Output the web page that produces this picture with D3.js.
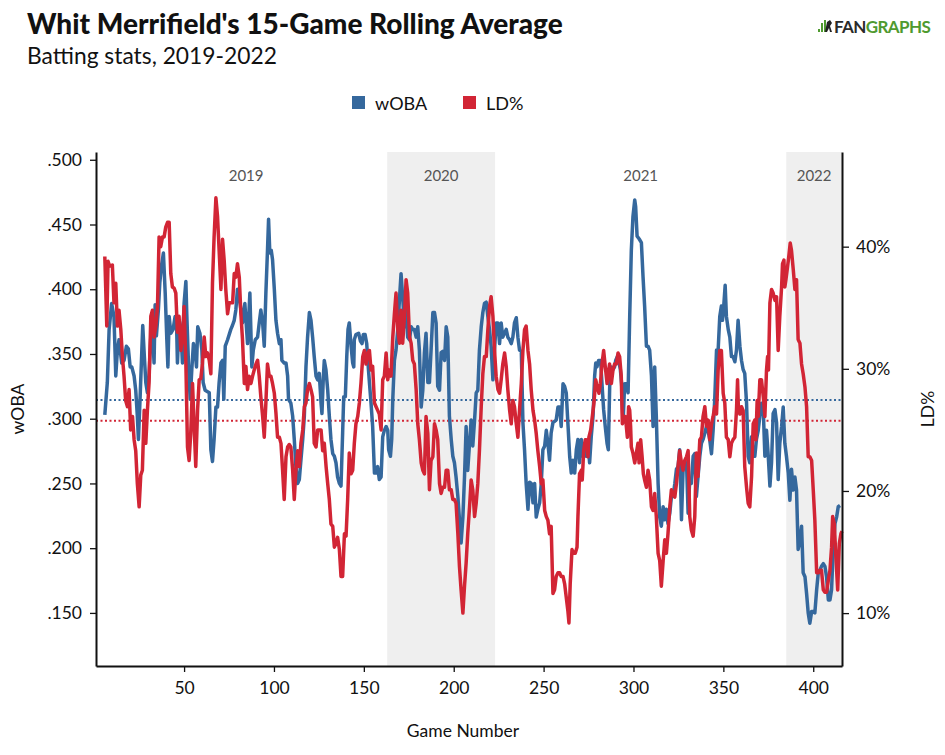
<!DOCTYPE html>
<html>
<head>
<meta charset="utf-8">
<script src="https://cdn.jsdelivr.net/npm/d3@7"></script>
<style>
  html, body { margin: 0; padding: 0; background: #fff; }
  svg { display: block; font-family: Lato, "Open Sans", sans-serif; }
</style>
</head>
<body>
<svg id="chart" width="945" height="755"></svg>
<script>
// ---------------- DATA ----------------
const wobaGames = [5.9,7.3,8.3,9.7,11.0,12.0,12.9,13.8,15.3,16.6,17.9,19.0,20.0,20.9,22.2,23.1,24.0,24.6,25.5,26.5,27.0,27.9,28.7,29.6,30.5,31.5,32.4,33.3,33.9,34.6,35.7,36.5,37.4,38.5,39.5,40.4,41.0,41.7,42.6,43.9,45.0,45.8,46.3,47.3,48.2,49.1,50.0,51.0,51.5,52.5,53.4,54.3,55.2,56.2,56.9,57.6,58.8,59.9,60.6,61.7,64.0,64.9,65.8,66.7,67.7,68.6,69.5,70.5,71.4,72.1,72.9,74.2,76.0,76.9,77.9,78.8,79.7,80.7,82.5,83.8,85.3,86.6,87.7,88.5,89.6,90.9,91.8,92.7,93.7,94.6,95.5,96.4,97.0,97.7,98.5,99.2,100.2,101.1,102.0,103.0,103.9,104.4,105.7,106.7,107.6,108.1,109.4,110.4,111.3,112.2,113.2,114.1,115.0,116.0,116.9,117.8,118.7,119.7,120.6,121.5,122.4,123.4,124.3,125.2,126.2,126.7,127.5,128.0,128.9,129.9,130.8,131.7,132.7,133.6,134.5,135.4,136.4,137.3,138.2,138.8,139.7,140.5,141.2,141.9,142.9,143.8,144.4,144.7,145.6,147.1,148.1,149.0,149.7,150.7,151.6,152.3,153.1,154.0,154.9,155.9,156.8,157.7,158.6,159.6,160.5,161.4,162.4,163.3,163.8,164.8,165.5,166.1,167.0,167.9,168.9,169.8,170.7,171.6,172.6,173.5,174.4,175.4,176.3,177.2,178.1,179.1,180.0,180.9,181.9,182.8,183.7,184.6,185.6,186.5,187.4,188.4,189.3,190.2,191.1,192.1,193.0,193.9,194.9,195.8,196.7,197.6,198.6,199.5,200.4,201.3,202.3,203.2,204.1,205.1,206.0,206.9,207.8,208.8,209.7,210.6,211.6,212.5,213.4,214.3,215.3,216.2,217.1,218.1,219.0,219.9,220.8,221.8,222.7,223.6,224.6,225.5,226.4,227.3,229.2,230.1,231.1,232.0,232.9,233.8,234.8,235.7,236.6,237.6,238.5,239.4,240.3,241.3,242.2,243.1,244.1,245.0,245.9,246.8,247.8,248.7,249.6,250.6,251.5,252.4,253.3,254.2,255.2,256.1,257.0,258.0,258.9,259.8,260.8,261.7,262.6,263.5,264.5,265.4,266.3,267.3,268.2,269.1,270.0,271.0,271.9,272.8,273.8,274.7,275.6,276.5,277.5,278.4,279.0,279.7,280.6,281.7,282.7,283.4,284.3,285.3,286.0,286.8,287.7,288.6,289.5,290.1,291.0,292.0,292.7,293.4,294.2,295.1,296.0,297.0,297.9,298.8,299.7,300.7,301.2,302.0,303.1,304.4,305.3,306.2,307.2,308.1,309.0,310.0,310.9,311.8,312.7,313.7,314.6,315.5,316.5,317.4,318.3,319.2,320.2,321.1,322.0,323.0,323.9,324.8,325.7,326.7,327.6,328.5,329.5,330.4,331.3,332.2,333.2,334.1,335.0,335.9,336.9,337.8,338.7,339.7,340.6,341.5,342.4,343.4,344.3,345.2,346.2,347.1,348.0,348.9,349.5,350.2,351.0,351.7,352.7,353.6,354.5,355.4,356.4,357.3,358.2,359.2,360.1,361.0,361.9,362.9,363.8,364.7,365.7,366.6,367.5,368.4,369.4,370.3,371.2,372.2,373.1,374.0,374.9,375.9,376.8,377.7,378.7,379.6,380.5,381.4,382.4,383.3,384.2,385.1,386.1,387.0,387.9,388.9,389.8,390.7,391.6,392.6,393.5,394.4,395.4,396.3,397.2,398.1,399.1,400.0,400.9,401.9,402.8,403.7,404.6,405.6,406.5,407.4,408.4,409.3,410.2,411.1,412.1,413.0,413.9,414.9];
const wobaValues = [.303,.328,.369,.389,.379,.333,.353,.361,.343,.345,.356,.354,.340,.340,.333,.322,.302,.284,.315,.353,.372,.348,.328,.320,.333,.364,.369,.343,.388,.364,.384,.405,.418,.428,.397,.361,.340,.379,.366,.369,.379,.374,.343,.376,.369,.343,.389,.406,.381,.340,.315,.338,.358,.351,.340,.371,.366,.353,.328,.322,.320,.276,.267,.284,.309,.309,.328,.343,.345,.315,.356,.361,.369,.372,.376,.384,.400,.394,.374,.389,.358,.397,.340,.353,.361,.363,.374,.384,.374,.356,.397,.430,.454,.428,.430,.423,.400,.376,.366,.358,.361,.345,.343,.343,.333,.315,.312,.302,.284,.263,.250,.253,.268,.284,.302,.340,.363,.382,.376,.363,.348,.333,.330,.335,.312,.304,.333,.345,.338,.322,.302,.284,.273,.271,.266,.255,.250,.248,.289,.317,.317,.348,.369,.374,.356,.343,.340,.361,.365,.366,.360,.358,.365,.365,.358,.343,.328,.312,.294,.258,.258,.263,.253,.255,.286,.291,.294,.291,.276,.271,.284,.315,.345,.353,.369,.392,.412,.394,.371,.384,.363,.361,.371,.369,.369,.363,.371,.353,.309,.322,.351,.366,.328,.328,.353,.382,.382,.374,.325,.322,.351,.352,.345,.371,.363,.302,.284,.271,.266,.255,.240,.222,.204,.224,.255,.294,.260,.281,.299,.279,.299,.320,.322,.353,.371,.382,.389,.390,.379,.369,.356,.330,.353,.374,.374,.358,.374,.363,.369,.363,.361,.358,.363,.374,.378,.363,.353,.352,.297,.276,.250,.230,.251,.250,.235,.250,.224,.230,.235,.250,.276,.279,.291,.281,.268,.289,.297,.298,.299,.309,.309,.294,.327,.325,.320,.297,.271,.258,.268,.258,.276,.284,.266,.284,.271,.281,.271,.281,.266,.286,.302,.333,.343,.340,.345,.345,.322,.307,.294,.281,.276,.327,.340,.338,.340,.345,.348,.343,.338,.327,.297,.327,.327,.320,.379,.430,.456,.469,.464,.441,.439,.436,.410,.387,.356,.356,.353,.333,.294,.340,.302,.250,.224,.217,.232,.222,.230,.219,.227,.240,.240,.250,.261,.263,.276,.222,.261,.263,.266,.227,.253,.250,.271,.273,.240,.255,.271,.281,.284,.289,.294,.291,.284,.273,.291,.315,.353,.353,.379,.387,.376,.387,.403,.379,.369,.363,.348,.348,.344,.353,.376,.356,.345,.338,.335,.312,.271,.266,.286,.271,.271,.284,.291,.302,.312,.307,.271,.291,.273,.248,.266,.304,.307,.297,.253,.281,.294,.309,.281,.271,.258,.237,.261,.245,.255,.245,.199,.206,.217,.181,.178,.165,.150,.142,.151,.151,.150,.168,.181,.183,.186,.188,.186,.178,.160,.160,.168,.199,.219,.224,.232,.233];

const ldGames = [5.9,7.0,7.7,8.6,10.1,11.0,12.0,12.9,13.8,14.8,15.7,16.6,17.5,18.5,19.4,20.3,21.3,22.2,23.1,24.0,25.0,25.9,26.8,27.8,28.7,29.6,30.5,31.5,32.4,33.3,34.3,35.2,36.1,37.0,38.0,38.9,39.8,40.8,41.7,42.6,43.5,44.5,45.4,46.3,47.2,48.2,49.1,50.0,51.0,51.9,52.8,53.7,54.7,55.6,56.5,57.5,58.4,59.3,60.2,61.2,62.1,63.0,64.0,64.9,65.8,66.7,67.7,68.6,69.5,70.5,71.4,72.3,73.2,74.2,75.1,77.0,77.9,78.8,79.7,80.7,81.6,82.5,83.5,84.4,85.3,86.2,87.2,88.1,89.0,90.0,90.9,91.8,92.7,93.7,94.6,95.5,96.4,97.4,98.3,99.2,100.2,101.1,102.0,103.0,103.9,104.8,105.7,106.7,107.6,108.5,109.4,110.4,111.3,112.2,113.2,114.1,115.0,116.0,116.9,117.8,118.7,119.7,120.6,121.5,122.4,123.4,124.3,125.2,126.2,127.1,128.0,129.0,129.9,130.8,131.7,132.7,133.6,134.5,135.4,136.4,137.3,138.2,139.2,140.1,141.0,141.9,142.9,143.8,144.7,145.6,146.6,147.5,148.4,149.4,150.3,151.2,152.2,153.1,154.0,154.9,155.9,156.8,157.7,158.6,159.6,160.5,161.4,162.4,163.3,164.2,165.1,166.1,167.0,167.9,168.9,169.8,170.7,171.6,172.6,173.5,174.4,175.4,176.3,177.2,178.1,179.1,180.0,180.9,181.9,182.8,183.7,184.6,185.6,186.5,187.4,188.4,189.3,190.2,191.1,192.1,193.0,193.9,194.9,195.8,196.7,197.6,198.6,199.5,200.4,201.3,202.3,203.2,204.1,205.1,206.0,206.9,207.8,208.8,209.7,210.6,211.6,212.5,213.4,214.3,215.3,216.2,217.1,218.1,219.0,219.9,220.8,221.8,222.7,223.6,224.6,225.5,226.4,227.3,228.3,229.2,230.1,231.1,232.0,232.9,233.8,234.8,235.7,236.6,237.6,238.5,239.4,240.3,241.3,242.2,243.1,244.1,245.0,245.9,246.8,247.8,248.7,249.6,250.6,251.5,252.4,253.3,254.2,255.2,256.1,257.0,258.0,258.9,259.8,260.8,261.7,262.6,263.5,264.1,264.8,265.8,266.7,267.6,268.6,269.1,270.0,271.0,271.5,272.3,273.2,273.8,274.7,275.2,276.2,277.1,278.0,279.0,279.9,280.8,281.6,282.5,283.4,284.3,285.3,285.8,286.7,287.7,288.6,289.5,290.5,291.4,292.3,293.2,293.8,294.7,295.5,296.6,297.3,297.9,298.4,298.8,299.7,300.7,301.6,302.5,303.1,304.0,304.8,305.5,306.2,307.2,308.1,309.0,310.0,310.9,311.8,312.7,313.7,314.6,315.5,316.5,317.4,318.3,319.2,320.2,321.1,322.0,323.0,323.9,324.8,325.7,326.7,327.6,328.5,329.5,330.4,331.3,332.2,333.2,334.1,335.0,335.9,336.9,337.8,338.7,339.7,340.6,341.5,342.4,343.4,344.3,345.2,346.2,347.1,348.0,348.9,349.9,350.8,351.7,352.7,353.6,354.5,355.4,356.4,357.3,357.9,358.4,359.2,360.1,361.0,361.9,362.9,363.8,364.7,365.7,366.6,367.5,368.1,368.8,369.4,370.3,371.2,372.2,373.1,374.0,374.6,375.1,375.9,376.8,377.7,378.7,379.6,380.5,381.4,382.4,382.9,383.7,384.2,384.8,385.5,386.4,387.2,387.9,388.9,389.8,390.7,391.6,392.6,393.5,394.4,395.4,396.3,397.2,398.1,399.1,400.0,400.9,401.9,402.8,403.7,404.6,405.6,406.5,407.4,408.4,409.3,410.2,410.8,411.7,412.6,413.6,414.5,415.4,416.0];
const ldValues = [39.2,33.5,38.8,38.4,38.5,35.4,37.0,33.5,34.8,33.2,31.0,29.4,27.4,26.9,28.3,25.0,26.1,24.2,23.3,20.6,18.7,21.3,21.7,26.6,23.9,26.6,28.8,34.3,34.8,32.6,33.5,35.1,40.8,40.0,40.8,40.8,41.6,42.0,42.0,37.8,36.7,36.6,36.2,33.0,34.3,31.5,32.6,35.1,30.4,23.6,22.5,24.7,28.8,25.3,22.0,26.6,29.1,29.2,30.4,32.6,31.0,31.3,30.7,29.6,37.0,40.8,44.0,42.5,39.7,36.5,40.6,38.9,36.5,34.5,35.4,35.4,37.8,37.5,38.6,37.5,34.5,32.4,28.8,30.2,28.3,29.4,28.8,29.4,29.9,30.4,30.7,29.4,27.7,26.1,24.4,27.2,30.4,29.4,29.4,28.8,28.0,26.4,24.4,24.4,23.9,21.7,19.3,22.8,23.6,23.8,23.6,21.7,19.3,21.7,23.3,22.0,23.9,25.0,26.9,27.2,28.3,28.8,28.3,27.7,23.9,23.6,25.0,25.0,25.0,23.3,23.9,22.0,20.6,19.3,17.3,17.1,15.4,15.7,16.2,15.2,13.0,13.0,16.5,16.3,19.3,23.1,21.4,21.7,23.9,25.5,26.1,27.2,28.8,31.0,31.5,30.4,31.3,31.5,29.9,30.2,27.2,26.9,26.6,26.3,25.0,29.1,29.4,31.3,29.1,29.9,29.4,32.6,34.5,36.2,33.2,32.1,34.8,32.1,34.3,37.3,36.2,32.6,32.1,30.7,30.4,28.3,25.5,24.2,22.3,21.7,21.4,26.1,24.7,20.1,22.5,22.8,25.5,25.0,24.2,20.6,19.8,20.3,20.3,21.7,21.7,20.1,20.1,19.3,19.3,19.0,16.5,13.8,11.9,10.0,12.2,14.1,16.5,18.7,20.9,20.1,17.9,19.0,20.6,23.3,26.9,29.6,31.0,31.0,33.2,35.1,35.9,34.3,31.5,29.4,28.3,28.0,29.1,30.4,31.3,30.2,28.3,26.6,25.5,27.4,26.9,25.5,24.4,26.6,28.8,31.5,33.2,33.5,31.5,30.4,28.3,26.6,25.8,24.7,23.3,22.0,20.6,20.9,18.4,17.9,17.6,16.5,17.1,11.6,11.9,13.0,13.3,13.3,13.0,13.0,12.4,11.3,10.2,9.2,12.4,15.2,14.9,14.9,15.4,17.9,21.4,21.7,20.9,23.3,24.2,24.2,22.8,24.4,25.0,26.1,27.2,29.1,28.5,28.0,28.8,30.4,31.5,30.2,28.8,29.4,30.4,28.8,29.9,30.4,30.4,31.3,31.0,29.4,25.5,26.1,26.1,24.4,26.9,26.6,25.3,23.6,23.1,22.3,23.1,23.9,22.3,24.2,22.8,21.4,20.9,20.3,21.7,20.9,18.7,18.4,19.8,17.9,14.9,14.3,12.2,14.3,16.0,14.9,16.5,18.7,20.1,19.8,19.5,20.6,22.0,23.3,22.3,21.7,22.5,22.8,23.3,17.9,16.8,16.3,17.9,23.1,21.2,24.2,24.4,26.1,26.9,25.3,25.8,24.2,25.5,26.1,26.9,26.3,29.9,31.5,31.5,28.0,27.2,24.4,24.2,22.8,23.9,24.2,24.4,26.6,29.1,26.6,26.3,26.9,26.6,22.0,20.3,19.0,18.7,21.2,25.5,25.8,24.2,27.4,26.1,29.1,29.1,27.7,26.1,29.9,31.0,29.9,35.4,36.5,36.2,35.6,35.9,31.5,34.3,36.7,38.6,38.9,36.7,37.3,38.1,39.2,40.3,39.7,38.1,36.5,37.3,32.4,32.1,30.4,29.6,28.5,26.9,22.8,22.8,22.5,20.1,17.6,13.3,13.3,13.5,13.5,11.9,11.7,11.7,12.7,13.5,15.4,17.9,17.3,14.6,11.9,15.7,16.5,16.7];

const wobaMean = 0.3145;
const ldMean = 25.75;

const seasonLabels = ["2019", "2020", "2021", "2022"];
const seasonStart  = [6, 163, 223, 385];
const seasonEnd    = [163, 223, 385, 416];
const seasonShaded = [false, true, false, true];

const gameTicks = [50, 100, 150, 200, 250, 300, 350, 400];
const wobaTicks = [0.150, 0.200, 0.250, 0.300, 0.350, 0.400, 0.450, 0.500];
const ldTicks   = [10, 20, 30, 40];

const titleText = "Whit Merrifield's 15-Game Rolling Average";
const subtitleText = "Batting stats, 2019-2022";
const seriesNames = ["wOBA", "LD%"];

// ---------------- STYLE / LAYOUT ----------------
const BLUE = "#35689d";
const RED = "#d22535";
const M = { left: 96, right: 842, top: 152, bottom: 666 };

const svg = d3.select("#chart");

const x = d3.scaleLinear().domain([1, 416]).range([M.left, M.right]);
const yL = d3.scaleLinear().domain([0.109, 0.506]).range([M.bottom, M.top]);
const yR = d3.scaleLinear().domain([5.67, 47.75]).range([M.bottom, M.top]);

// season shading
const seasons = seasonLabels.map((s, i) => ({ label: s, a: seasonStart[i], b: seasonEnd[i], shaded: seasonShaded[i] }));
svg.append("g").selectAll("rect")
  .data(seasons.filter(d => d.shaded))
  .join("rect")
  .attr("x", d => x(d.a))
  .attr("y", M.top)
  .attr("width", d => Math.min(x(d.b), M.right) - x(d.a))
  .attr("height", M.bottom - M.top)
  .attr("fill", "#efefef");

svg.append("g").selectAll("text")
  .data(seasons)
  .join("text")
  .attr("x", d => x((d.a + d.b) / 2))
  .attr("y", 181)
  .attr("text-anchor", "middle")
  .attr("font-size", 15)
  .attr("fill", "#555")
  .text(d => d.label);

// mean lines
svg.append("line")
  .attr("x1", M.left).attr("x2", M.right)
  .attr("y1", yL(wobaMean)).attr("y2", yL(wobaMean))
  .attr("stroke", BLUE).attr("stroke-width", 2).attr("stroke-dasharray", "2,2.5");
svg.append("line")
  .attr("x1", M.left).attr("x2", M.right)
  .attr("y1", yR(ldMean)).attr("y2", yR(ldMean))
  .attr("stroke", RED).attr("stroke-width", 2).attr("stroke-dasharray", "2,2.5");

// series
const wobaData = wobaGames.map((g, i) => ({ g, v: wobaValues[i] }));
const ldData = ldGames.map((g, i) => ({ g, v: ldValues[i] }));

svg.append("path")
  .datum(wobaData)
  .attr("fill", "none")
  .attr("stroke", BLUE)
  .attr("stroke-width", 3.5)
  .attr("stroke-linejoin", "round")
  .attr("d", d3.line().x(d => x(d.g)).y(d => yL(d.v)));

svg.append("path")
  .datum(ldData)
  .attr("fill", "none")
  .attr("stroke", RED)
  .attr("stroke-width", 3.5)
  .attr("stroke-linejoin", "round")
  .attr("d", d3.line().x(d => x(d.g)).y(d => yR(d.v)));

// axes
function styleAxis(g) {
  g.selectAll(".domain").attr("stroke", "#111").attr("stroke-width", 2);
  g.selectAll(".tick line").attr("stroke", "#111").attr("stroke-width", 1.3);
  g.selectAll(".tick text").attr("font-family", "Lato, sans-serif").attr("font-size", 17.5).attr("fill", "#111");
}

svg.append("g")
  .attr("transform", `translate(${M.left},0)`)
  .call(d3.axisLeft(yL).tickValues(wobaTicks).tickSize(6).tickPadding(8).tickSizeOuter(0)
    .tickFormat(d => d3.format(".3f")(d).replace(/^0/, "")))
  .call(styleAxis);

svg.append("g")
  .attr("transform", `translate(${M.right},0)`)
  .call(d3.axisRight(yR).tickValues(ldTicks).tickSize(7).tickPadding(7).tickSizeOuter(0)
    .tickFormat(d => d + "%"))
  .call(styleAxis);

svg.append("g")
  .attr("transform", `translate(0,${M.bottom})`)
  .call(d3.axisBottom(x).tickValues(gameTicks).tickSize(6).tickPadding(10).tickSizeOuter(0)
    .tickFormat(d3.format("d")))
  .call(styleAxis);

// axis titles
svg.append("text")
  .attr("transform", `translate(24,${(M.top + M.bottom) / 2}) rotate(-90)`)
  .attr("text-anchor", "middle")
  .attr("font-size", 17.5).attr("fill", "#111")
  .text("wOBA");
svg.append("text")
  .attr("transform", `translate(934,${(M.top + M.bottom) / 2}) rotate(-90)`)
  .attr("text-anchor", "middle")
  .attr("font-size", 17.5).attr("fill", "#111")
  .text("LD%");
svg.append("text")
  .attr("x", 463).attr("y", 737)
  .attr("text-anchor", "middle")
  .attr("font-size", 17.5).attr("fill", "#111")
  .text("Game Number");

// title
svg.append("text")
  .attr("x", 27).attr("y", 34)
  .attr("font-size", 28).attr("font-weight", 900).attr("fill", "#111")
  .text(titleText);
svg.append("text")
  .attr("x", 27).attr("y", 64)
  .attr("font-size", 22.8).attr("fill", "#111")
  .text(subtitleText);

// legend
const legend = svg.append("g");
const legendItems = [
  { name: seriesNames[0], color: BLUE, x: 352 },
  { name: seriesNames[1], color: RED, x: 463 }
];
legendItems.forEach(it => {
  legend.append("rect").attr("x", it.x).attr("y", 96).attr("width", 13).attr("height", 13).attr("fill", it.color);
  legend.append("text").attr("x", it.x + 23).attr("y", 109.5).attr("font-size", 18).attr("fill", "#111").text(it.name);
});

// FanGraphs logo
const logo = svg.append("g").attr("transform", "translate(818,18)");
[[0, 11, 2, 3], [3, 5, 2, 9], [6, 2, 2, 12]].forEach(b => {
  logo.append("rect").attr("x", b[0]).attr("y", b[1]).attr("width", b[2]).attr("height", b[3]).attr("fill", "#4f9a2f");
});
logo.append("path").attr("d", "M9,4 l3,-2 l2,3 l-2,3 l2,6 l-2,0 l-1,-4 l-2,4 l-2,0 z").attr("fill", "#222");
const lt = logo.append("text").attr("x", 16).attr("y", 15).attr("font-size", 17).attr("font-weight", 700)
  .attr("letter-spacing", -0.6);
lt.append("tspan").attr("fill", "#2a2a2a").text("FAN");
lt.append("tspan").attr("fill", "#4f9a2f").text("GRAPHS");
</script>
</body>
</html>
